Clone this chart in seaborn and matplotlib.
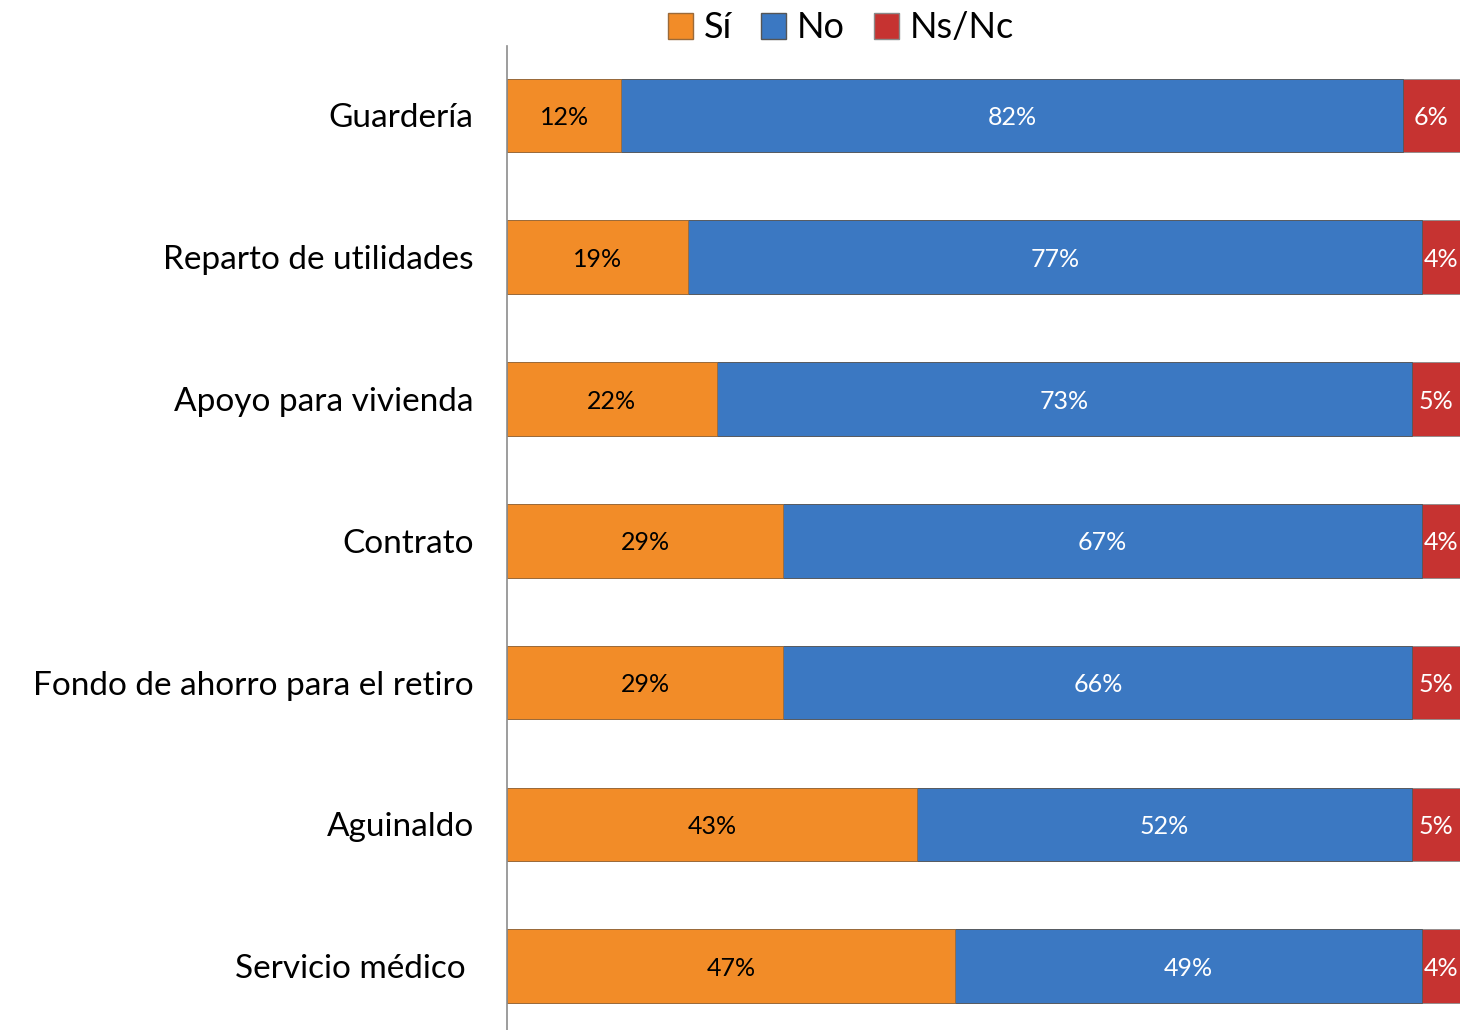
import numpy as np
import pandas as pd
import seaborn as sns
import matplotlib.pyplot as plt
from matplotlib.patches import Patch

# datos
categorias = ['Guardería', 'Reparto de utilidades', 'Apoyo para vivienda', 'Contrato',
              'Fondo de ahorro para el retiro', 'Aguinaldo', 'Servicio médico ']
si = [12, 19, 22, 29, 29, 43, 47]
no = [82, 77, 73, 67, 66, 52, 49]
nsnc = [6, 4, 5, 4, 5, 5, 4]

c_si = '#F28C28'
c_no = '#3B78C2'
c_ns = '#C63331'

df = pd.DataFrame({'Categoria': categorias, 'Sí': si, 'No': no, 'Ns/Nc': nsnc})
df['acum_no'] = df['Sí'] + df['No']
df['acum_ns'] = df['acum_no'] + df['Ns/Nc']

sns.set_theme(style='white')
plt.rcParams['font.family'] = ['Lato', 'DejaVu Sans']

fig = plt.figure(figsize=(14.72, 10.30), dpi=100)
ax = fig.add_axes([507 / 1472, 0.0, 953 / 1472, 1 - 46 / 1030])

# barras apiladas: se dibujan los acumulados de mayor a menor
sns.barplot(data=df, y='Categoria', x='acum_ns', color=c_ns, width=0.52,
            orient='h', ax=ax, saturation=1, edgecolor='#8a8a8a', linewidth=0.6)
sns.barplot(data=df, y='Categoria', x='acum_no', color=c_no, width=0.52,
            orient='h', ax=ax, saturation=1, edgecolor='#555555', linewidth=0.6)
sns.barplot(data=df, y='Categoria', x='Sí', color=c_si, width=0.52,
            orient='h', ax=ax, saturation=1, edgecolor='#9a6a3a', linewidth=0.6)

# etiquetas de valores
for i, row in df.iterrows():
    ax.text(row['Sí'] / 2, i, f"{row['Sí']}%", ha='center', va='center_baseline',
            fontsize=18, color='black')
    ax.text(row['Sí'] + row['No'] / 2, i, f"{row['No']}%", ha='center',
            va='center_baseline', fontsize=18, color='white')
    ax.text(row['acum_no'] + row['Ns/Nc'] / 2, i, f"{row['Ns/Nc']}%", ha='center',
            va='center_baseline', fontsize=18, color='white')

ax.set_xlim(0, df['acum_ns'].max())
ax.set_ylim(6.45, -0.49)
ax.set_xlabel('')
ax.set_ylabel('')
ax.set_xticks([])
ax.tick_params(axis='y', length=0, pad=24, labelsize=24, labelcolor='black')
for s in ['top', 'right', 'bottom']:
    ax.spines[s].set_visible(False)
ax.spines['left'].set_color('#8c8c8c')
ax.spines['left'].set_linewidth(1.2)

handles = [Patch(facecolor=c_si, edgecolor='#9a6a3a', label='Sí'),
           Patch(facecolor=c_no, edgecolor='#555555', label='No'),
           Patch(facecolor=c_ns, edgecolor='#8a8a8a', label='Ns/Nc')]
fig.legend(handles=handles, loc='center', bbox_to_anchor=(841 / 1472, 1 - 28 / 1030),
           ncol=3, frameon=False, fontsize=26, handlelength=0.7, handleheight=0.7,
           handletextpad=0.3, columnspacing=0.8, labelcolor='black')

fig.savefig('out.png', dpi=100)
